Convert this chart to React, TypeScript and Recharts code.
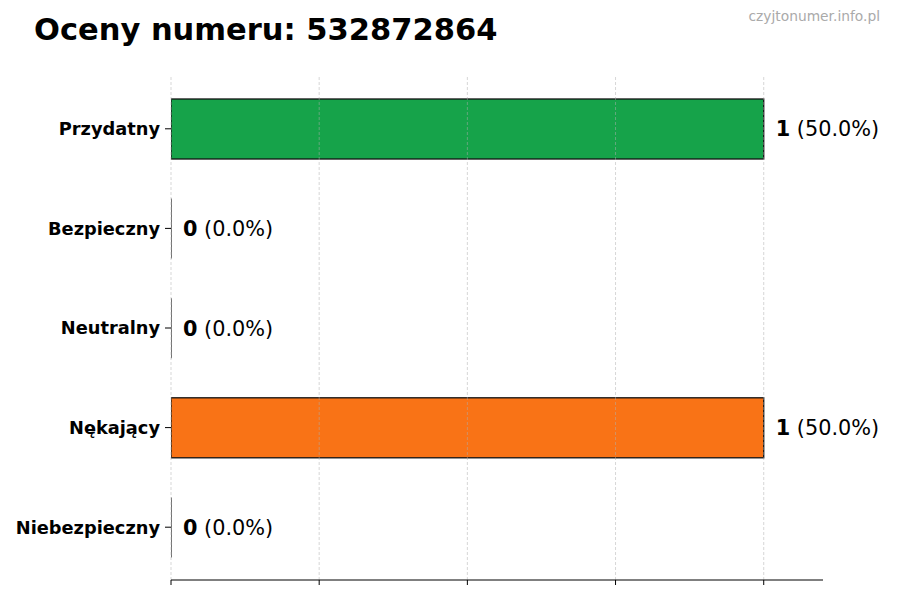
import * as React from 'react';
import { Bar, BarChart, Cell, LabelList, ReferenceLine, XAxis, YAxis } from 'recharts';

const FONT = '"DejaVu Sans", Verdana, sans-serif';

const TITLE = 'Oceny numeru: 532872864';
const WATERMARK = 'czyjtonumer.info.pl';

const categories = ['Przydatny', 'Bezpieczny', 'Neutralny', 'Nękający', 'Niebezpieczny'];
const counts = [1, 0, 0, 1, 0];
const percents = ['50.0%', '0.0%', '0.0%', '50.0%', '0.0%'];
const colors = ['#16a34a', '#6b7280', '#3b82f6', '#f97316', '#dc2626'];
const xTicks = [0, 0.25, 0.5, 0.75, 1];

const data = categories.map((name, i) => ({
  name,
  value: counts[i],
  pct: percents[i],
}));

// zero-width bars still get the black edge, like matplotlib draws them
function BarShape(props: any): React.JSX.Element {
  const { x, y, width, height, fill } = props;
  const w = Math.max(0, width || 0);
  if (w < 0.5) {
    return <line x1={x} x2={x} y1={y} y2={y + height} stroke="#111" strokeWidth={1.2} />;
  }
  return <rect x={x} y={y} width={w} height={height} fill={fill} stroke="#111" strokeWidth={1.3} />;
}

function ValueLabel(props: any): React.JSX.Element | null {
  const { x, y, width, height, index } = props;
  const d = data[index];
  if (!d) return null;
  return (
    <text
      x={x + Math.max(0, width || 0) + 12}
      y={y + height / 2}
      dy="0.36em"
      fontFamily={FONT}
      fontSize={20.8}
      fill="#000"
    >
      <tspan fontWeight="bold">{d.value}</tspan>
      <tspan> ({d.pct})</tspan>
    </text>
  );
}

export default function App(): React.JSX.Element {
  return (
    <div style={{ position: 'absolute', left: 0, top: 0, width: 900, height: 600, background: '#fff' }}>
      <div
        style={{
          position: 'absolute',
          left: 34,
          top: 15,
          fontFamily: FONT,
          fontWeight: 'bold',
          fontSize: 30.5,
          lineHeight: '30px',
          color: '#000',
          whiteSpace: 'nowrap',
        }}
      >
        {TITLE}
      </div>
      <div
        style={{
          position: 'absolute',
          right: 20,
          top: 9,
          fontFamily: FONT,
          fontSize: 13.8,
          lineHeight: '14px',
          color: '#aaa',
          whiteSpace: 'nowrap',
        }}
      >
        {WATERMARK}
      </div>
      <BarChart
        width={900}
        height={600}
        data={data}
        layout="vertical"
        margin={{ top: 76, right: 77, bottom: 0, left: 0 }}
        barCategoryGap={0}
      >
        <XAxis
          type="number"
          domain={[0, 1.1]}
          ticks={xTicks}
          tickFormatter={() => ''}
          height={20}
          tickSize={5}
          stroke="#000"
          allowDataOverflow
        />
        <YAxis
          type="category"
          dataKey="name"
          width={171}
          axisLine={false}
          tickSize={6}
          tickMargin={5}
          stroke="#000"
          padding={{ top: 3, bottom: 3 }}
          tick={{ fontFamily: FONT, fontSize: 17.8, fontWeight: 'bold', fill: '#000' }}
        />
        <Bar dataKey="value" barSize={60} shape={<BarShape />} isAnimationActive={false}>
          {data.map((d, i) => (
            <Cell key={d.name} fill={colors[i]} />
          ))}
          <LabelList dataKey="value" content={<ValueLabel />} />
        </Bar>
        {/* matplotlib grid sits above the bars with alpha */}
        {xTicks.map((t) => (
          <ReferenceLine
            key={t}
            x={t}
            stroke="#b0b0b0"
            strokeOpacity={0.5}
            strokeDasharray="3 2"
          />
        ))}
      </BarChart>
    </div>
  );
}
